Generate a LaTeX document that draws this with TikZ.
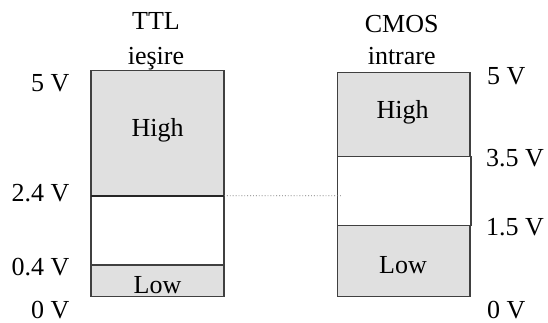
\documentclass[tikz,border=0pt]{standalone}
\usepackage{fontspec}
\setmainfont{Liberation Serif}
\begin{document}
\begin{tikzpicture}[x=1pt,y=-1pt,
  every node/.style={font=\fontsize{26}{31}\selectfont, inner sep=0pt, outer sep=0pt},
  band/.style={draw=black!75, line width=1.3pt, rectangle},
  grey band/.style={band, fill=black!12},
  white band/.style={band, fill=white},
  txt/.style={anchor=base},
  lvl left/.style={anchor=base east},
  lvl right/.style={anchor=base west}]
\useasboundingbox (0,0) rectangle (548,323);

% TTL output levels
\node[grey band, minimum width=133pt, minimum height=125pt] (tHigh) at (157.5,133.2) {};
\node[white band, minimum width=133pt, minimum height=69.3pt] (tMid) at (157.5,230.35) {};
\node[grey band, minimum width=133pt, minimum height=31.7pt] (tLow) at (157.5,280.85) {};
\draw[black!85, line width=1.8pt] (tMid.north west) -- (tMid.north east);

% CMOS input levels
\node[grey band, minimum width=132.3pt, minimum height=84pt] (cHigh) at (403.85,114.7) {};
\node[white band, minimum width=133.3pt, minimum height=69pt] (cMid) at (404.35,191.2) {};
\node[grey band, minimum width=132.3pt, minimum height=71pt] (cLow) at (403.85,261.2) {};

% headings
\node[txt] (tT1) at (156,30) {TTL};
\node[txt] (tT2) at (156,65) {ieşire};
\node[txt] (cT1) at (401.7,33) {CMOS};
\node[txt] (cT2) at (401.7,65) {intrare};

% band labels
\node[txt] (tHighL) at (157.5,136.7) {High};
\node[txt] (tLowL) at (157.5,293) {Low};
\node[txt] (cHighL) at (402.5,118.3) {High};
\node[txt] (cLowL) at (403,273.3) {Low};

% voltage levels
\node[lvl left] (v5l) at (69.5,91.7) {5 V};
\node[lvl left] (v24) at (69.5,201) {2.4 V};
\node[lvl left] (v04) at (69.5,275) {0.4 V};
\node[lvl left] (v0l) at (69.5,318.5) {0 V};
\node[lvl right] (v5r) at (487,85) {5 V};
\node[lvl right] (v35) at (486,166.7) {3.5 V};
\node[lvl right] (v15) at (486,235) {1.5 V};
\node[lvl right] (v0r) at (487,318.5) {0 V};

% 2.4 V carried across to the CMOS undefined band
\coordinate (dotEnd) at (342,195.7);
\draw[black!55, line width=0.9pt, dotted] (tMid.north east) -- (dotEnd);
\end{tikzpicture}
\end{document}
